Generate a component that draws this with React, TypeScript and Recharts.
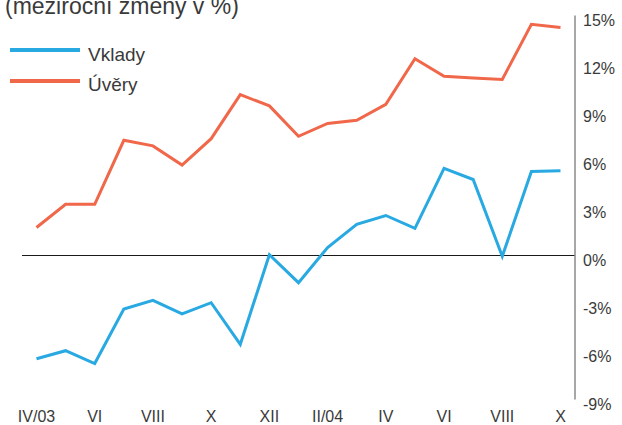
import React from 'react'
import { LineChart, Line, XAxis, YAxis, ReferenceLine } from 'recharts'

const months = ['IV/03', 'V', 'VI', 'VII', 'VIII', 'IX', 'X', 'XI', 'XII', 'I/04', 'II/04', 'III', 'IV', 'V', 'VI', 'VII', 'VIII', 'IX', 'X']
const vklady = [-6.45, -5.95, -6.75, -3.35, -2.8, -3.65, -2.95, -5.55, 0.05, -1.7, 0.5, 1.95, 2.5, 1.7, 5.45, 4.75, -0.05, 5.25, 5.3]
const uvery = [1.75, 3.2, 3.2, 7.2, 6.85, 5.65, 7.3, 10.05, 9.35, 7.45, 8.25, 8.45, 9.45, 12.3, 11.2, 11.1, 11.0, 14.45, 14.25]
const yTicks = [15, 12, 9, 6, 3, 0, -3, -6, -9]
const seriesNames = ['Vklady', 'Úvěry']

const data = months.map((m, i) => ({ i, m, vklady: vklady[i], uvery: uvery[i] }))

const FONT = '"Liberation Sans", Arial, sans-serif'
const TXT = '#3a3a3a'
const BLUE = '#29a9e1'
const RED = '#f0674a'

const XTick = (props: any) => {
    const { x, y, payload } = props
    return (
        <text x={x} y={y + 22} textAnchor="middle" fontFamily={FONT} fontSize={16} fill={TXT}>
            {months[payload.value]}
        </text>
    )
}

const YTick = (props: any) => {
    const { x, y, payload } = props
    return (
        <text x={x} y={y + 10} textAnchor="start" fontFamily={FONT} fontSize={16} fill={TXT}>
            {payload.value}%
        </text>
    )
}

export default function App() {
    return (
        <div style={{ position: 'absolute', left: 0, top: 0, width: 622, height: 425, overflow: 'hidden', background: '#fff' }}>
            <LineChart
                width={622}
                height={425}
                data={data}
                margin={{ top: 15.5, right: 0, left: 22, bottom: 0.5 }}
            >
                <XAxis
                    dataKey="i"
                    type="category"
                    interval={1}
                    padding={{ left: 14.5, right: 14.5 }}
                    axisLine={false}
                    tickLine={false}
                    tickSize={0}
                    tickMargin={0}
                    height={25}
                    tick={<XTick />}
                />
                <YAxis
                    orientation="right"
                    domain={[-9, 15]}
                    ticks={yTicks}
                    interval={0}
                    width={47}
                    axisLine={{ stroke: '#8a8a8a', strokeWidth: 1.5 }}
                    tickLine={false}
                    tickSize={0}
                    tickMargin={8}
                    tick={<YTick />}
                />
                <ReferenceLine y={0} stroke="#1a1a1a" strokeWidth={1} />
                <Line type="linear" dataKey="uvery" name="Úvěry" stroke={RED} strokeWidth={3} dot={false} isAnimationActive={false} />
                <Line type="linear" dataKey="vklady" name="Vklady" stroke={BLUE} strokeWidth={3} dot={false} isAnimationActive={false} />
            </LineChart>
            <svg width={260} height={100} style={{ position: 'absolute', left: 0, top: 0 }}>
                <text x={5} y={13.5} fontFamily={FONT} fontSize={23} fill={TXT}>(meziroční změny v %)</text>
                <line x1={10} x2={80} y1={50} y2={50} stroke={BLUE} strokeWidth={4} />
                <text x={88} y={61} fontFamily={FONT} fontSize={19} fill={TXT}>{seriesNames[0]}</text>
                <line x1={10} x2={80} y1={81} y2={81} stroke={RED} strokeWidth={4} />
                <text x={88} y={91} fontFamily={FONT} fontSize={19} fill={TXT}>{seriesNames[1]}</text>
            </svg>
        </div>
    )
}
